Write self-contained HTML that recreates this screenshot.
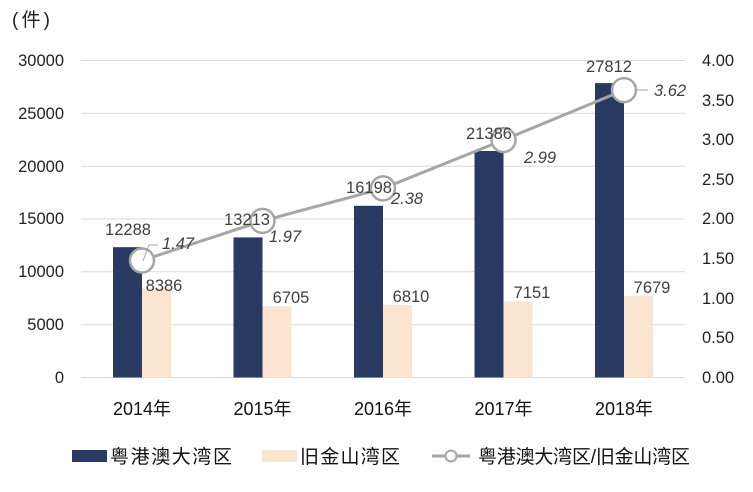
<!DOCTYPE html><html><head><meta charset="utf-8"><style>body{margin:0;background:#fff}</style></head><body>
<svg width="753" height="487" xmlns="http://www.w3.org/2000/svg" font-family="Liberation Sans, Noto Sans CJK SC, sans-serif">
<g stroke="#d9d9d9" stroke-width="1">
<line x1="81" x2="685" y1="60.5" y2="60.5"/><line x1="81" x2="685" y1="113.3" y2="113.3"/><line x1="81" x2="685" y1="166.2" y2="166.2"/><line x1="81" x2="685" y1="219" y2="219"/><line x1="81" x2="685" y1="271.8" y2="271.8"/><line x1="81" x2="685" y1="324.7" y2="324.7"/><line x1="81" x2="685" y1="377.5" y2="377.5"/>
</g>
<g font-size="16.5" fill="#222" text-anchor="end">
<text x="64" y="66">30000</text><text x="64" y="119">25000</text><text x="64" y="172">20000</text><text x="64" y="224">15000</text><text x="64" y="277">10000</text><text x="64" y="330">5000</text><text x="64" y="383">0</text>
</g>
<g font-size="16.5" fill="#222" text-anchor="start">
<text x="702" y="66">4.00</text><text x="702" y="106">3.50</text><text x="702" y="145">3.00</text><text x="702" y="185">2.50</text><text x="702" y="224">2.00</text><text x="702" y="264">1.50</text><text x="702" y="304">1.00</text><text x="702" y="343">0.50</text><text x="702" y="383">0.00</text>
</g>
<text x="12" y="26" font-size="19" fill="#222" textLength="38">(件)</text>
<g fill="#283a62">
<rect x="113" y="247.2" width="29" height="130.3"/><rect x="233.5" y="237.4" width="29" height="140.1"/><rect x="354" y="205.8" width="29" height="171.7"/><rect x="474.5" y="151" width="29" height="226.5"/><rect x="595" y="83.1" width="29" height="294.4"/>
</g>
<g fill="#fbe5d0">
<rect x="142" y="288.4" width="29" height="89.1"/><rect x="262.5" y="306.2" width="29" height="71.3"/><rect x="383" y="305" width="29" height="72.5"/><rect x="503.5" y="301.4" width="29" height="76.1"/><rect x="624" y="295.9" width="29" height="81.6"/>
</g>
<polyline points="142,260.5 262.5,220.9 383,188.4 503.5,140 624,90.1" fill="none" stroke="#a6a6a6" stroke-width="3"/>
<g fill="#fff" stroke="#a6a6a6" stroke-width="2.5">
<circle cx="142" cy="260.5" r="12"/><circle cx="262.5" cy="220.9" r="12"/><circle cx="383" cy="188.4" r="12"/><circle cx="503.5" cy="140" r="12"/><circle cx="624" cy="90.1" r="12"/>
</g>
<path d="M143 261 L149 245 L158 245" fill="none" stroke="#a6a6a6" stroke-width="1"/>
<path d="M636 90 L648 90" fill="none" stroke="#a6a6a6" stroke-width="1"/>
<g font-size="16.5" fill="#404040" text-anchor="middle">
<text x="128" y="235">12288</text><text x="247" y="225">13213</text><text x="369" y="193">16198</text><text x="489" y="139">21386</text><text x="609" y="72">27812</text>
<text x="164" y="291">8386</text><text x="291" y="303">6705</text><text x="411" y="302">6810</text><text x="532" y="298">7151</text><text x="652" y="293">7679</text>
</g>
<g font-size="16.5" fill="#404040" font-style="italic" text-anchor="middle">
<text x="178" y="249">1.47</text><text x="285" y="242">1.97</text><text x="407" y="204">2.38</text><text x="540" y="163">2.99</text><text x="670" y="96">3.62</text>
</g>
<g font-size="18" fill="#111" text-anchor="middle">
<text x="142" y="415">2014年</text><text x="262.5" y="415">2015年</text><text x="383" y="415">2016年</text><text x="503.5" y="415">2017年</text><text x="624" y="415">2018年</text>
</g>
<rect x="72" y="450" width="35" height="12" fill="#283a62"/>
<text x="110" y="463" font-size="19" fill="#111" textLength="122">粤港澳大湾区</text>
<rect x="262" y="450" width="35" height="12" fill="#fbe5d0"/>
<text x="300" y="463" font-size="19" fill="#111" textLength="100">旧金山湾区</text>
<line x1="432" x2="470" y1="456" y2="456" stroke="#a6a6a6" stroke-width="3"/>
<circle cx="451" cy="456" r="5.5" fill="#fff" stroke="#a6a6a6" stroke-width="2"/>
<text x="478" y="463" font-size="19" fill="#111" textLength="212">粤港澳大湾区/旧金山湾区</text>
</svg>
</body></html>
